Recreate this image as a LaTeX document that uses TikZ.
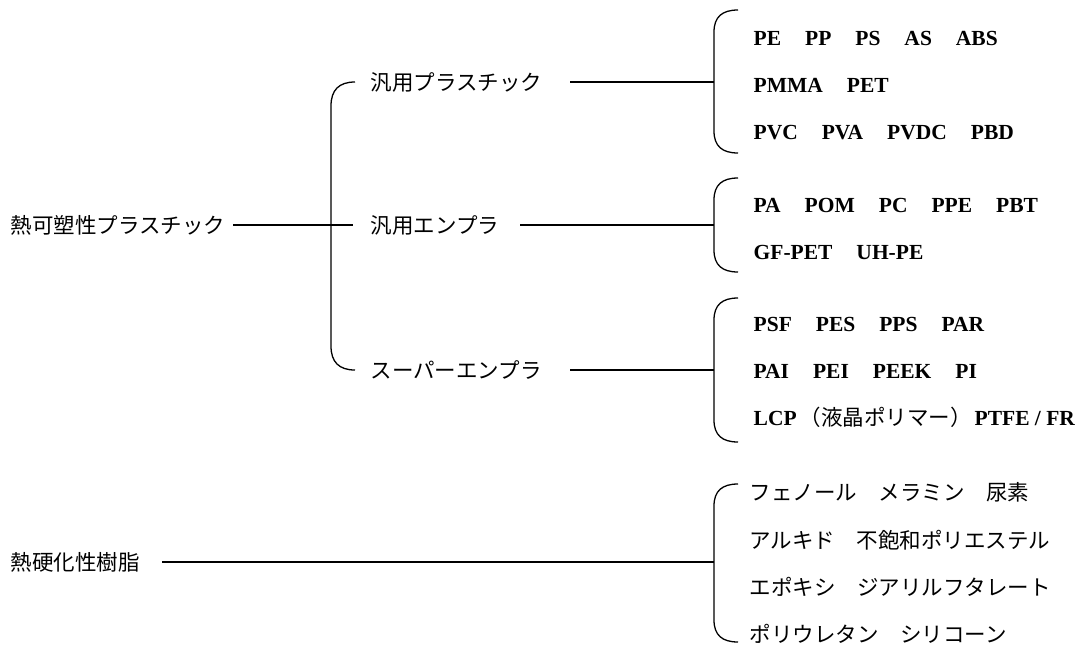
\documentclass[tikz,border=0pt]{standalone}
\usepackage{fontspec}
\setmainfont{Liberation Serif}
\newfontfamily\jp{Noto Sans CJK JP}
\newcommand{\gapp}{\hspace{24pt}}
\newcommand{\itembrace}[2]{%
  \draw[brk] (738,#1) .. controls (722,#1) and (714,#1+7) .. (714,#1+22) -- (714,#2-22) .. controls (714,#2-7) and (722,#2) .. (738,#2);}
\begin{document}
\begin{tikzpicture}[x=1pt,y=-1pt, line width=1.3pt,
  jplabel/.style={font=\jp\fontsize{21.5}{26}\selectfont, inner sep=0pt, anchor=base west},
  enlabel/.style={font=\bfseries\fontsize{21.5}{26}\selectfont, inner sep=0pt, anchor=base west},
  conn/.style={line width=1.3pt},
  brk/.style={line width=1.3pt}]
\useasboundingbox (0,0) rectangle (1081,646);

% left labels
\node[jplabel] (tp) at (10,233) {熱可塑性プラスチック};
\node[jplabel] (g1) at (370,90) {汎用プラスチック};
\node[jplabel] (g2) at (370,233) {汎用エンプラ};
\node[jplabel] (g3) at (370,378) {スーパーエンプラ};
\node[jplabel] (ts) at (10,570) {熱硬化性樹脂};

% main bracket
\coordinate (mb1) at (355,82);
\coordinate (mb3) at (355,370);
\draw[brk] (mb1) .. controls (339,82) and (331,90) .. (331,106) -- (331,346) .. controls (331,362) and (339,370) .. (mb3);

% connector from left label to main bracket
\coordinate (tpL) at (233,225);
\coordinate (tpR) at (353,225);
\draw[conn] (tpL) -- (tpR);

% right brackets
\itembrace{10}{153}
\itembrace{178}{272}
\itembrace{298}{442}
\itembrace{484}{642}

\coordinate (b1) at (714,82);
\coordinate (b2) at (714,225);
\coordinate (b3) at (714,370);
\coordinate (b4) at (714,562);
\coordinate (g1r) at (570,82);
\coordinate (g2r) at (520,225);
\coordinate (g3r) at (570,370);
\coordinate (tsr) at (162,562);
\draw[conn] (g1r) -- (b1);
\draw[conn] (g2r) -- (b2);
\draw[conn] (g3r) -- (b3);
\draw[conn] (tsr) -- (b4);

% group 1 items
\node[enlabel] (r11) at (753,45) {PE\gapp PP\gapp PS\gapp AS\gapp ABS};
\node[enlabel] (r12) at (753,92) {PMMA\gapp PET};
\node[enlabel] (r13) at (753,139) {PVC\gapp PVA\gapp PVDC\gapp PBD};

% group 2 items
\node[enlabel] (r21) at (753,212) {PA\gapp POM\gapp PC\gapp PPE\gapp PBT};
\node[enlabel] (r22) at (753,259) {GF-PET\gapp UH-PE};

% group 3 items
\node[enlabel] (r31) at (753,331) {PSF\gapp PES\gapp PPS\gapp PAR};
\node[enlabel] (r32) at (753,378) {PAI\gapp PEI\gapp PEEK\gapp PI};
\node[enlabel] (r33) at (753,425) {LCP\hspace{3pt}{\jp\mdseries\fontsize{21.5}{26}\selectfont （液晶ポリマー）}\hspace{3pt}PTFE / FR};

% thermoset items
\node[jplabel] (r41) at (749,500) {フェノール　メラミン　尿素};
\node[jplabel] (r42) at (749,548) {アルキド　不飽和ポリエステル};
\node[jplabel] (r43) at (749,595) {エポキシ　ジアリルフタレート};
\node[jplabel] (r44) at (749,642) {ポリウレタン　シリコーン};
\end{tikzpicture}
\end{document}
